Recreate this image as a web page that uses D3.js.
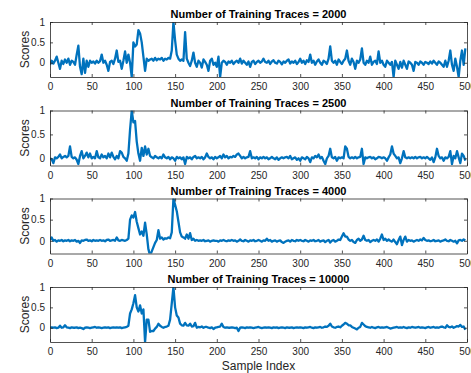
<!DOCTYPE html>
<html>
<head>
<meta charset="utf-8">
<script src="https://cdn.jsdelivr.net/npm/d3@7"></script>
<style>
  body { margin: 0; background: #fff; }
  svg text { font-family: "Liberation Sans", Arial, Helvetica, sans-serif; }
</style>
</head>
<body>
<svg width="471" height="373"></svg>
<script>
// number of training traces for each panel
var traceCounts = [2000, 2500, 4000, 10000];

// scores read every 2nd sample (index 0, 2, ..., 498)
var scores2000 = [
  -0.05,0.05,-0.02,0.05,0.15,0.0,-0.15,0.05,-0.03,0.08,
  0.0,0.1,-0.05,0.05,0.02,-0.05,0.2,0.42,-0.1,-0.28,
  0.1,-0.25,0.05,-0.1,0.05,0.0,0.03,-0.02,0.05,0.0,
  0.04,0.2,0.0,0.05,-0.05,-0.2,0.02,0.05,-0.03,0.1,
  0.3,0.02,0.05,-0.15,0.05,0.28,0.0,0.2,0.0,-0.35,
  0.5,0.4,0.45,0.8,0.72,0.5,0.15,-0.2,0.1,0.05,
  0.08,0.1,0.05,0.12,0.06,0.1,0.08,0.12,0.05,0.1,
  0.08,0.12,0.1,0.3,1.0,0.55,0.2,0.1,0.05,0.08,
  0.05,0.75,0.1,0.0,-0.08,0.05,0.25,0.0,-0.1,0.05,
  0.0,-0.12,0.08,0.02,-0.05,-0.2,0.05,0.1,-0.05,0.0,
  -0.1,0.15,-0.35,0.0,0.05,0.02,-0.05,0.03,0.0,0.05,
  -0.03,0.02,0.05,0.0,0.1,-0.02,0.05,0.0,-0.05,0.03,
  -0.1,0.02,0.05,-0.03,0.02,0.05,0.0,0.03,0.1,0.02,
  0.0,0.05,-0.03,0.03,0.06,0.0,-0.02,0.05,0.02,-0.04,
  0.03,0.0,0.05,0.08,-0.02,0.03,0.0,0.05,-0.03,0.02,
  0.1,0.0,0.05,-0.03,0.06,0.02,0.2,0.0,0.05,-0.05,
  0.03,0.08,0.0,-0.05,0.05,0.02,-0.03,0.1,0.4,0.05,
  0.0,0.05,-0.05,0.08,0.02,-0.03,0.05,0.1,0.3,0.05,
  -0.05,0.1,0.02,-0.15,0.05,0.0,0.08,0.35,0.0,-0.05,
  0.05,0.0,0.15,-0.05,0.02,0.05,-0.03,0.28,0.0,0.05,
  -0.05,-0.1,0.05,0.0,-0.05,0.02,-0.35,0.05,-0.05,-0.15,
  0.02,-0.12,0.05,-0.05,-0.15,0.03,0.0,-0.05,-0.2,0.02,
  0.0,-0.05,0.03,0.0,-0.05,0.02,0.0,-0.03,0.03,-0.02,
  0.05,0.0,-0.05,0.03,0.0,-0.05,-0.1,0.05,-0.1,0.05,
  0.3,-0.05,-0.2,0.1,-0.1,-0.35,0.05,0.3,-0.05,0.35
];
var scores2500 = [
  0.0,-0.02,-0.1,0.02,0.0,0.03,0.08,0.0,0.03,0.05,
  0.02,0.05,0.25,0.03,0.0,0.02,-0.03,-0.12,0.05,0.15,
  0.0,0.05,0.12,0.02,0.1,0.0,0.03,0.0,0.15,0.02,
  0.0,0.08,0.02,0.05,0.0,0.1,0.02,0.12,0.03,-0.02,
  0.05,0.0,0.15,0.12,0.03,0.0,-0.05,0.1,0.6,1.0,
  0.75,0.78,0.35,0.1,-0.05,0.22,0.05,0.25,0.08,0.2,
  0.05,0.02,0.0,0.05,0.02,0.0,0.03,0.0,0.08,0.02,
  0.0,0.03,-0.02,0.02,0.0,-0.05,0.03,0.0,0.02,-0.02,
  0.02,-0.12,0.03,0.0,0.02,-0.02,0.03,0.05,0.0,0.02,
  0.0,0.03,-0.02,0.02,0.1,0.03,0.0,0.02,-0.02,0.03,
  0.0,0.02,0.05,0.0,0.08,0.02,0.05,0.0,0.03,0.02,
  0.05,0.03,0.08,0.1,0.05,0.0,0.03,0.0,0.02,0.03,
  0.15,0.0,0.02,0.0,0.03,-0.02,0.02,0.0,0.03,0.0,
  0.02,-0.02,0.0,0.03,0.0,-0.02,0.02,-0.03,0.0,0.02,
  0.0,0.02,0.03,0.0,0.05,-0.02,0.0,0.02,-0.03,0.0,
  -0.05,0.02,0.0,-0.02,0.03,0.0,-0.08,0.02,0.0,0.05,
  0.02,0.08,0.0,0.03,-0.05,-0.12,0.0,0.05,0.2,0.02,
  0.0,0.03,-0.05,0.02,0.0,0.02,0.0,0.25,0.2,0.03,
  0.0,0.02,0.0,0.03,0.0,0.02,0.03,0.2,-0.12,0.02,
  0.0,0.02,0.03,0.0,0.02,-0.02,0.0,0.03,0.02,0.0,
  0.02,0.0,-0.05,0.02,0.08,0.25,0.1,0.05,0.0,0.02,
  -0.1,0.0,0.15,0.02,0.0,0.02,0.0,0.02,0.0,0.03,
  0.0,0.02,0.03,0.0,0.02,0.0,0.03,0.0,-0.03,0.02,
  -0.08,0.02,0.2,0.05,0.0,0.02,-0.05,0.02,0.0,0.03,
  0.15,-0.12,0.05,0.0,0.15,0.02,-0.1,0.1,0.05,-0.05
];
var scores4000 = [
  0.02,0.08,0.0,0.02,-0.02,0.01,0.0,0.02,-0.01,0.01,
  0.0,0.02,-0.01,0.01,0.0,0.02,-0.02,0.0,-0.05,0.01,
  0.0,0.02,0.03,0.0,0.01,-0.01,0.02,0.0,0.01,0.0,
  0.02,0.0,0.01,-0.01,0.02,0.03,0.0,0.01,0.02,0.0,
  0.08,0.01,0.0,0.02,0.01,0.0,0.02,0.05,0.5,0.6,
  0.55,0.68,0.45,0.3,0.15,0.22,0.12,0.43,0.15,-0.2,
  -0.35,-0.25,-0.15,-0.05,0.02,0.25,0.05,0.08,0.03,0.06,
  0.05,0.08,0.06,0.2,1.0,0.85,0.7,0.45,0.2,0.1,
  0.08,0.05,0.15,0.05,0.18,0.02,0.05,0.0,0.02,0.0,
  0.01,0.0,0.02,-0.01,0.0,0.01,-0.02,0.0,0.01,0.0,
  0.0,-0.02,0.01,0.0,0.02,0.0,-0.01,0.01,0.0,0.02,
  0.0,0.01,-0.02,0.0,0.03,0.0,-0.01,0.02,0.0,-0.02,
  0.01,0.0,0.02,-0.01,0.0,0.02,0.0,-0.02,0.01,0.0,
  0.05,0.0,0.02,-0.02,0.0,0.01,-0.02,0.0,0.01,-0.03,
  -0.05,-0.02,0.0,0.01,-0.02,0.02,0.0,-0.01,0.02,0.0,
  0.02,0.0,-0.01,0.02,0.0,-0.02,0.01,0.0,0.02,-0.01,
  0.0,0.02,-0.02,0.0,0.01,-0.03,0.0,0.02,-0.04,0.0,
  0.02,-0.02,0.0,0.03,0.02,0.1,0.18,0.1,0.1,0.03,
  0.0,0.02,-0.03,-0.05,0.02,0.05,0.0,0.03,0.12,0.02,
  0.0,0.02,-0.03,0.0,0.02,0.0,0.03,-0.02,0.05,0.15,
  0.02,0.05,0.0,0.03,0.0,-0.02,0.03,-0.03,-0.08,0.02,
  0.1,-0.1,0.02,0.1,-0.02,0.02,0.0,0.01,-0.02,0.0,
  0.02,0.0,0.03,0.01,0.07,0.02,0.0,0.01,-0.01,0.0,
  0.02,-0.01,0.0,0.01,-0.02,0.0,0.01,0.03,0.0,-0.01,
  0.02,0.0,-0.02,0.0,-0.06,0.01,0.02,0.0,0.03,0.01
];
var scores10000 = [
  0.0,0.01,0.0,0.01,-0.01,0.0,0.05,0.0,0.01,0.06,
  0.01,0.0,-0.01,0.01,0.0,0.0,0.01,-0.01,0.0,-0.01,
  -0.03,0.0,0.01,0.0,-0.01,0.0,0.01,0.02,0.0,0.01,
  0.0,-0.01,0.0,0.01,0.0,0.01,-0.01,0.0,0.01,0.0,
  0.01,0.0,0.01,-0.01,0.0,0.01,0.02,0.05,0.35,0.45,
  0.6,0.8,0.5,0.4,0.55,0.35,0.45,-0.35,0.2,0.2,
  -0.1,-0.08,-0.08,-0.02,0.02,0.1,0.05,0.02,0.0,0.02,
  0.03,0.05,0.2,0.6,1.0,0.5,0.3,0.25,0.1,0.06,
  0.05,0.12,0.06,0.05,0.1,0.03,0.04,0.12,0.0,0.02,
  0.01,0.03,0.0,0.02,0.02,0.0,-0.01,0.01,-0.03,0.0,
  0.01,0.02,0.03,0.1,0.02,0.0,0.01,0.0,0.0,0.01,
  0.0,-0.01,0.0,-0.08,0.0,0.01,0.0,-0.01,0.01,0.0,
  0.01,0.0,-0.01,0.0,0.01,0.02,0.0,-0.01,0.0,0.01,
  0.0,0.01,0.0,-0.01,0.01,0.0,0.01,-0.01,0.0,0.01,
  0.0,-0.01,0.01,0.0,0.0,0.01,-0.01,0.0,0.01,0.0,
  0.01,0.0,-0.01,0.01,0.0,0.01,0.02,0.0,-0.01,0.01,
  0.0,0.01,0.02,0.0,0.01,0.03,0.02,0.05,0.1,0.03,
  0.01,0.0,0.02,0.03,0.01,0.05,0.08,0.12,0.1,0.06,
  0.06,0.02,0.0,-0.02,-0.04,0.0,0.02,0.12,0.08,0.04,
  0.02,0.01,0.0,0.02,0.0,-0.01,0.01,0.02,0.0,0.01,
  0.0,0.01,0.02,0.0,-0.02,-0.01,0.0,0.01,0.02,0.0,
  0.01,0.0,0.02,0.0,-0.01,0.01,0.0,0.02,0.01,0.0,
  0.01,0.02,0.0,0.01,0.0,-0.01,0.01,0.02,0.0,0.01,
  0.02,0.0,0.01,0.0,0.02,0.03,0.01,0.0,0.06,0.02,
  0.01,0.03,0.0,0.02,0.04,0.03,0.07,0.02,0.03,-0.05
];

// lower y limit of each panel (upper is 1)
var yMins = [-0.35, -0.15, -0.3, -0.35];
var xTicks = [0, 50, 100, 150, 200, 250, 300, 350, 400, 450, 500];
var yTicks = [0, 0.5, 1];

var allScores = [scores2000, scores2500, scores4000, scores10000];

var svg = d3.select("svg"),
  margin = { left: 50, right: 4 },
  width = +svg.attr("width") - margin.left - margin.right,
  panelH = 55,
  panelTops = [22, 110.5, 198.5, 287];

var axisColor = "#262626";
var lineColor = "#0072BD";

var x = d3.scaleLinear().domain([0, 500]).range([0, width]);

allScores.forEach(function(vals, p) {
  var y = d3.scaleLinear().domain([yMins[p], 1]).range([panelH, 0]);
  var g = svg.append("g")
    .attr("transform", "translate(" + margin.left + "," + panelTops[p] + ")");

  g.append("clipPath").attr("id", "clip" + p)
    .append("rect").attr("width", width).attr("height", panelH);

  var pts = vals.map(function(v, i) { return { s: i * 2, v: v }; });

  g.append("path")
    .datum(pts)
    .attr("clip-path", "url(#clip" + p + ")")
    .attr("fill", "none")
    .attr("stroke", lineColor)
    .attr("stroke-width", 2.3)
    .attr("stroke-linejoin", "round")
    .attr("d", d3.line()
      .x(function(d) { return x(d.s); })
      .y(function(d) { return y(d.v); }));

  // bottom axis with labels, ticks pointing inward
  var bottom = g.append("g")
    .attr("transform", "translate(0," + panelH + ")")
    .call(d3.axisBottom(x).tickValues(xTicks).tickSizeInner(-3).tickSizeOuter(0).tickPadding(6));
  // top axis, ticks only
  var top = g.append("g")
    .call(d3.axisTop(x).tickValues(xTicks).tickSizeInner(-3).tickSizeOuter(0).tickFormat(""));
  var left = g.append("g")
    .call(d3.axisLeft(y).tickValues(yTicks).tickSizeInner(-3).tickSizeOuter(0).tickPadding(5)
      .tickFormat(function(d) { return d === 0.5 ? "0.5" : d; }));
  var right = g.append("g")
    .attr("transform", "translate(" + width + ",0)")
    .call(d3.axisRight(y).tickValues(yTicks).tickSizeInner(-3).tickSizeOuter(0).tickFormat(""));

  [bottom, top, left, right].forEach(function(a) {
    a.select(".domain").attr("stroke", axisColor).attr("stroke-width", 0.8);
    a.selectAll(".tick line").attr("stroke", axisColor).attr("stroke-width", 0.8);
    a.selectAll(".tick text").attr("fill", axisColor).style("font-size", "10px");
  });

  g.append("text")
    .attr("x", width / 2)
    .attr("y", -4)
    .attr("text-anchor", "middle")
    .attr("fill", "#000")
    .style("font-size", "11px")
    .style("font-weight", "bold")
    .text("Number of Training Traces = " + traceCounts[p]);

  g.append("text")
    .attr("transform", "translate(-21," + (panelH / 2) + ") rotate(-90)")
    .attr("text-anchor", "middle")
    .attr("fill", axisColor)
    .style("font-size", "12px")
    .text("Scores");
});

svg.append("text")
  .attr("x", margin.left + width / 2)
  .attr("y", 370)
  .attr("text-anchor", "middle")
  .attr("fill", axisColor)
  .style("font-size", "12px")
  .text("Sample Index");
</script>
</body>
</html>
